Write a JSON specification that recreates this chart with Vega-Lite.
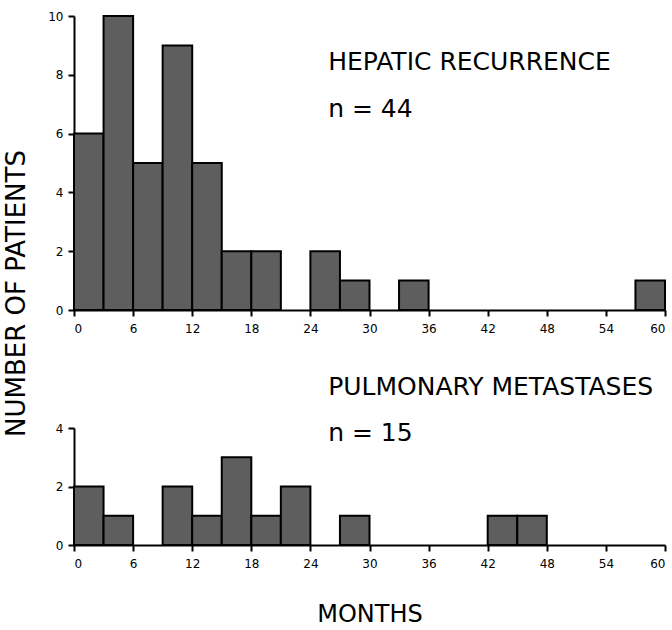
{
  "$schema": "https://vega.github.io/schema/vega-lite/v6.json",
  "background": "white",
  "padding": {"left": 3, "top": 10, "right": 5, "bottom": 5},
  "bounds": "flush",
  "spacing": 118,
  "datasets": {
    "hepatic": [
      {"start": 0, "end": 3, "count": 6},
      {"start": 3, "end": 6, "count": 10},
      {"start": 6, "end": 9, "count": 5},
      {"start": 9, "end": 12, "count": 9},
      {"start": 12, "end": 15, "count": 5},
      {"start": 15, "end": 18, "count": 2},
      {"start": 18, "end": 21, "count": 2},
      {"start": 24, "end": 27, "count": 2},
      {"start": 27, "end": 30, "count": 1},
      {"start": 33, "end": 36, "count": 1},
      {"start": 57, "end": 60, "count": 1}
    ],
    "pulmonary": [
      {"start": 0, "end": 3, "count": 2},
      {"start": 3, "end": 6, "count": 1},
      {"start": 9, "end": 12, "count": 2},
      {"start": 12, "end": 15, "count": 1},
      {"start": 15, "end": 18, "count": 3},
      {"start": 18, "end": 21, "count": 1},
      {"start": 21, "end": 24, "count": 2},
      {"start": 27, "end": 30, "count": 1},
      {"start": 42, "end": 45, "count": 1},
      {"start": 45, "end": 48, "count": 1}
    ],
    "hepLabels": [
      {"label": "HEPATIC RECURRENCE", "mx": 25.8, "cnt": 8.42},
      {"label": "n = 44", "mx": 25.8, "cnt": 6.85}
    ],
    "pulLabels": [
      {"label": "PULMONARY METASTASES", "mx": 25.8, "cnt": 5.4},
      {"label": "n = 15", "mx": 25.8, "cnt": 3.83}
    ]
  },
  "config": {
    "view": {"stroke": null},
    "axis": {
      "grid": false,
      "domainColor": "black",
      "domainWidth": 2,
      "tickColor": "black",
      "tickWidth": 2,
      "tickSize": 6,
      "labelColor": "black",
      "labelFont": "DejaVu Sans",
      "labelFontSize": 12,
      "labelPadding": 5,
      "titleColor": "black",
      "titleFont": "DejaVu Sans",
      "titleFontSize": 26,
      "titleFontWeight": "normal"
    },
    "axisX": {"labelPadding": 7}
  },
  "vconcat": [
    {
      "width": 591,
      "height": 294,
      "layer": [
        {
          "data": {"name": "hepatic"},
          "mark": {"type": "bar", "fill": "#5e5e5e", "stroke": "black", "strokeWidth": 2},
          "encoding": {
            "x": {"field": "start", "type": "quantitative", "scale": {"domain": [0, 60], "nice": false, "padding": 0},
                  "axis": {"values": [0, 6, 12, 18, 24, 30, 36, 42, 48, 54, 60], "title": null}},
            "x2": {"field": "end"},
            "y": {"field": "count", "type": "quantitative", "scale": {"domain": [0, 10], "nice": false, "padding": 0},
                  "axis": {"values": [0, 2, 4, 6, 8, 10], "title": "NUMBER OF PATIENTS",
                           "titleX": -58, "titleY": 277, "titleAngle": 270,
                           "titleAlign": "center", "titleBaseline": "middle"}},
            "y2": {"datum": 0}
          }
        },
        {
          "data": {"name": "hepLabels"},
          "mark": {"type": "text", "align": "left", "baseline": "middle", "fontSize": 25, "color": "black",
                   "font": "DejaVu Sans"},
          "encoding": {
            "x": {"field": "mx", "type": "quantitative"},
            "y": {"field": "cnt", "type": "quantitative"},
            "text": {"field": "label"}
          }
        }
      ]
    },
    {
      "width": 591,
      "height": 117,
      "layer": [
        {
          "data": {"name": "pulmonary"},
          "mark": {"type": "bar", "fill": "#5e5e5e", "stroke": "black", "strokeWidth": 2},
          "encoding": {
            "x": {"field": "start", "type": "quantitative", "scale": {"domain": [0, 60], "nice": false, "padding": 0},
                  "axis": {"values": [0, 6, 12, 18, 24, 30, 36, 42, 48, 54, 60], "title": "MONTHS", "titlePadding": 33, "titleFontSize": 24}},
            "x2": {"field": "end"},
            "y": {"field": "count", "type": "quantitative", "scale": {"domain": [0, 4], "nice": false, "padding": 0},
                  "axis": {"values": [0, 2, 4], "title": null}},
            "y2": {"datum": 0}
          }
        },
        {
          "data": {"name": "pulLabels"},
          "mark": {"type": "text", "align": "left", "baseline": "middle", "fontSize": 25, "color": "black",
                   "font": "DejaVu Sans"},
          "encoding": {
            "x": {"field": "mx", "type": "quantitative"},
            "y": {"field": "cnt", "type": "quantitative"},
            "text": {"field": "label"}
          }
        }
      ]
    }
  ]
}
